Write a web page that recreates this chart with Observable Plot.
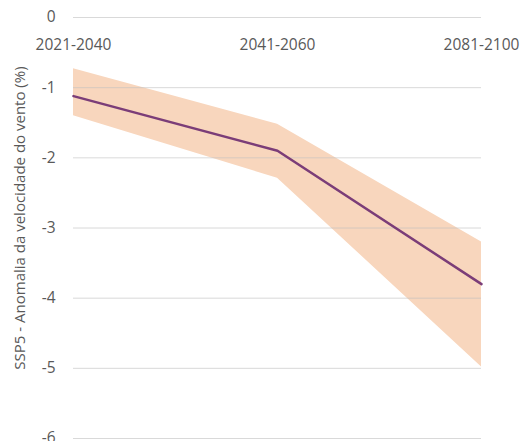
<!DOCTYPE html>
<html>
<head>
<meta charset="utf-8">
<script src="https://cdn.jsdelivr.net/npm/d3@7"></script>
<script src="https://cdn.jsdelivr.net/npm/@observablehq/plot@0.6"></script>
<style>
  html, body { margin: 0; padding: 0; background: #fff; }
  svg { display: block; }
</style>
</head>
<body>
<div id="chart"></div>
<script>
const periods = ["2021-2040", "2041-2060", "2081-2100"];
const mean = [-1.12, -1.9, -3.8];
const upper = [-0.73, -1.52, -3.2];
const lower = [-1.4, -2.29, -4.98];
const yTicks = [0, -1, -2, -3, -4, -5, -6];
const yLabel = "SSP5 - Anomalia da velocidade do vento (%)";

const data = periods.map((p, i) => ({period: p, mean: mean[i], upper: upper[i], lower: lower[i]}));

const chart = Plot.plot({
  width: 522,
  height: 441,
  marginTop: 17,
  marginBottom: 3,
  marginLeft: 73,
  marginRight: 41,
  style: {fontFamily: "Open Sans", background: "#fff"},
  x: {type: "point", domain: periods, padding: 0, axis: null},
  y: {domain: [-6, 0], axis: null},
  marks: [
    Plot.areaY(data, {x: "period", y1: "lower", y2: "upper", fill: "#f8d6bd", curve: "linear"}),
    Plot.ruleY(yTicks, {stroke: "#bfbfbf", strokeOpacity: 0.6, strokeWidth: 1}),
    Plot.lineY(data, {x: "period", y: "mean", stroke: "#7b3d78", strokeWidth: 2.5}),
    Plot.text(yTicks, {frameAnchor: "left", y: d => d, text: d => String(d), textAnchor: "end", dx: -18, fill: "#595959", fontSize: 15.5}),
    Plot.text(periods, {x: d => d, frameAnchor: "top", dy: 21, text: d => d, fill: "#595959", fontSize: 15.5}),
    Plot.text([yLabel], {frameAnchor: "left", textAnchor: "middle", dx: -53, dy: -10, rotate: -90, text: d => d, fill: "#595959", fontSize: 15})
  ]
});
document.getElementById("chart").append(chart);
</script>
</body>
</html>
